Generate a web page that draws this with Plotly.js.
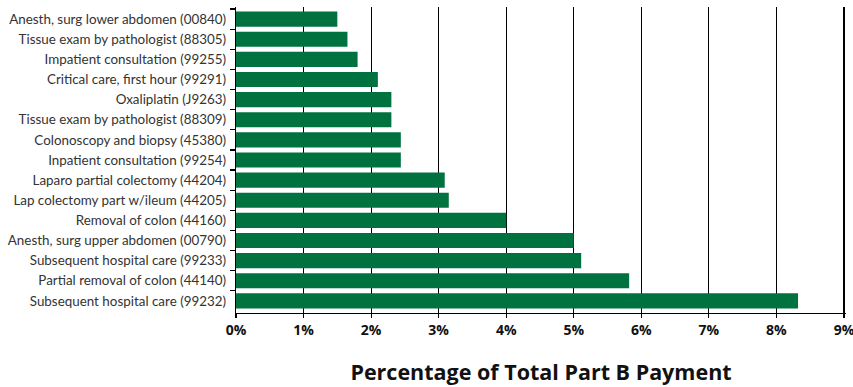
<!DOCTYPE html>
<html>
<head>
<meta charset="utf-8">
<script src="https://cdn.plot.ly/plotly-3.0.1.min.js"></script>
<style>
  html, body { margin: 0; padding: 0; background: #ffffff; }
  #chart { width: 853px; height: 387px; }
</style>
</head>
<body>
<div id="chart"></div>
<script>
// Procedures ranked by share of total Part B payment (top row first)
const procedures = [
  "Anesth, surg lower abdomen (00840)",
  "Tissue exam by pathologist (88305)",
  "Impatient consultation (99255)",
  "Critical care, first hour (99291)",
  "Oxaliplatin (J9263)",
  "Tissue exam by pathologist (88309)",
  "Colonoscopy and biopsy (45380)",
  "Inpatient consultation (99254)",
  "Laparo partial colectomy (44204)",
  "Lap colectomy part w/ileum (44205)",
  "Removal of colon (44160)",
  "Anesth, surg upper abdomen (00790)",
  "Subsequent hospital care (99233)",
  "Partial removal of colon (44140)",
  "Subsequent hospital care (99232)"
];

// Percentage of total Part B payment
const sharePct = [1.5, 1.65, 1.8, 2.1, 2.3, 2.3, 2.44, 2.44, 3.09, 3.15, 4.0, 5.0, 5.11, 5.82, 8.32];

// Axis ticks
const xTickVals = [0, 1, 2, 3, 4, 5, 6, 7, 8, 9];
const xTickText = ["0%", "1%", "2%", "3%", "4%", "5%", "6%", "7%", "8%", "9%"];

const trace = {
  type: "bar",
  orientation: "h",
  x: sharePct,
  y: procedures,
  width: 0.75,
  marker: { color: "#00723f", line: { width: 0 } },
  hoverinfo: "x+y"
};

const layout = {
  width: 853,
  height: 387,
  margin: { l: 236, r: 7, t: 7, b: 74, pad: 0 },
  paper_bgcolor: "#ffffff",
  plot_bgcolor: "#ffffff",
  showlegend: false,
  bargap: 0.25,
  xaxis: {
    range: [0, 9.03],
    tickvals: xTickVals,
    ticktext: xTickText,
    ticklabeloverflow: "allow",
    showgrid: true,
    gridcolor: "#000000",
    gridwidth: 1.2,
    zeroline: false,
    showline: true,
    linecolor: "#000000",
    linewidth: 1.2,
    ticks: "outside",
    ticklen: 4,
    tickwidth: 1.2,
    tickcolor: "#000000",
    automargin: false,
    tickfont: { family: "Open Sans, Liberation Sans, sans-serif", size: 14, color: "#111111", weight: "bold" },
    title: {
      text: "<b>Percentage of Total Part B Payment</b>",
      font: { family: "Open Sans, Liberation Sans, sans-serif", size: 21.5, color: "#111111" },
      standoff: 27
    },
    fixedrange: true
  },
  yaxis: {
    type: "category",
    range: [14.6, -0.6],
    showgrid: false,
    zeroline: false,
    showline: true,
    linecolor: "#000000",
    linewidth: 1.2,
    ticks: "outside",
    tickson: "boundaries",
    ticklen: 5,
    tickwidth: 1.2,
    tickcolor: "#000000",
    ticklabelstandoff: 6,
    automargin: false,
    tickfont: { family: "Lato, Noto Sans, sans-serif", size: 13.4, color: "#333333" },
    fixedrange: true
  }
};

Plotly.newPlot("chart", [trace], layout, { displayModeBar: false, staticPlot: true });
</script>
</body>
</html>
